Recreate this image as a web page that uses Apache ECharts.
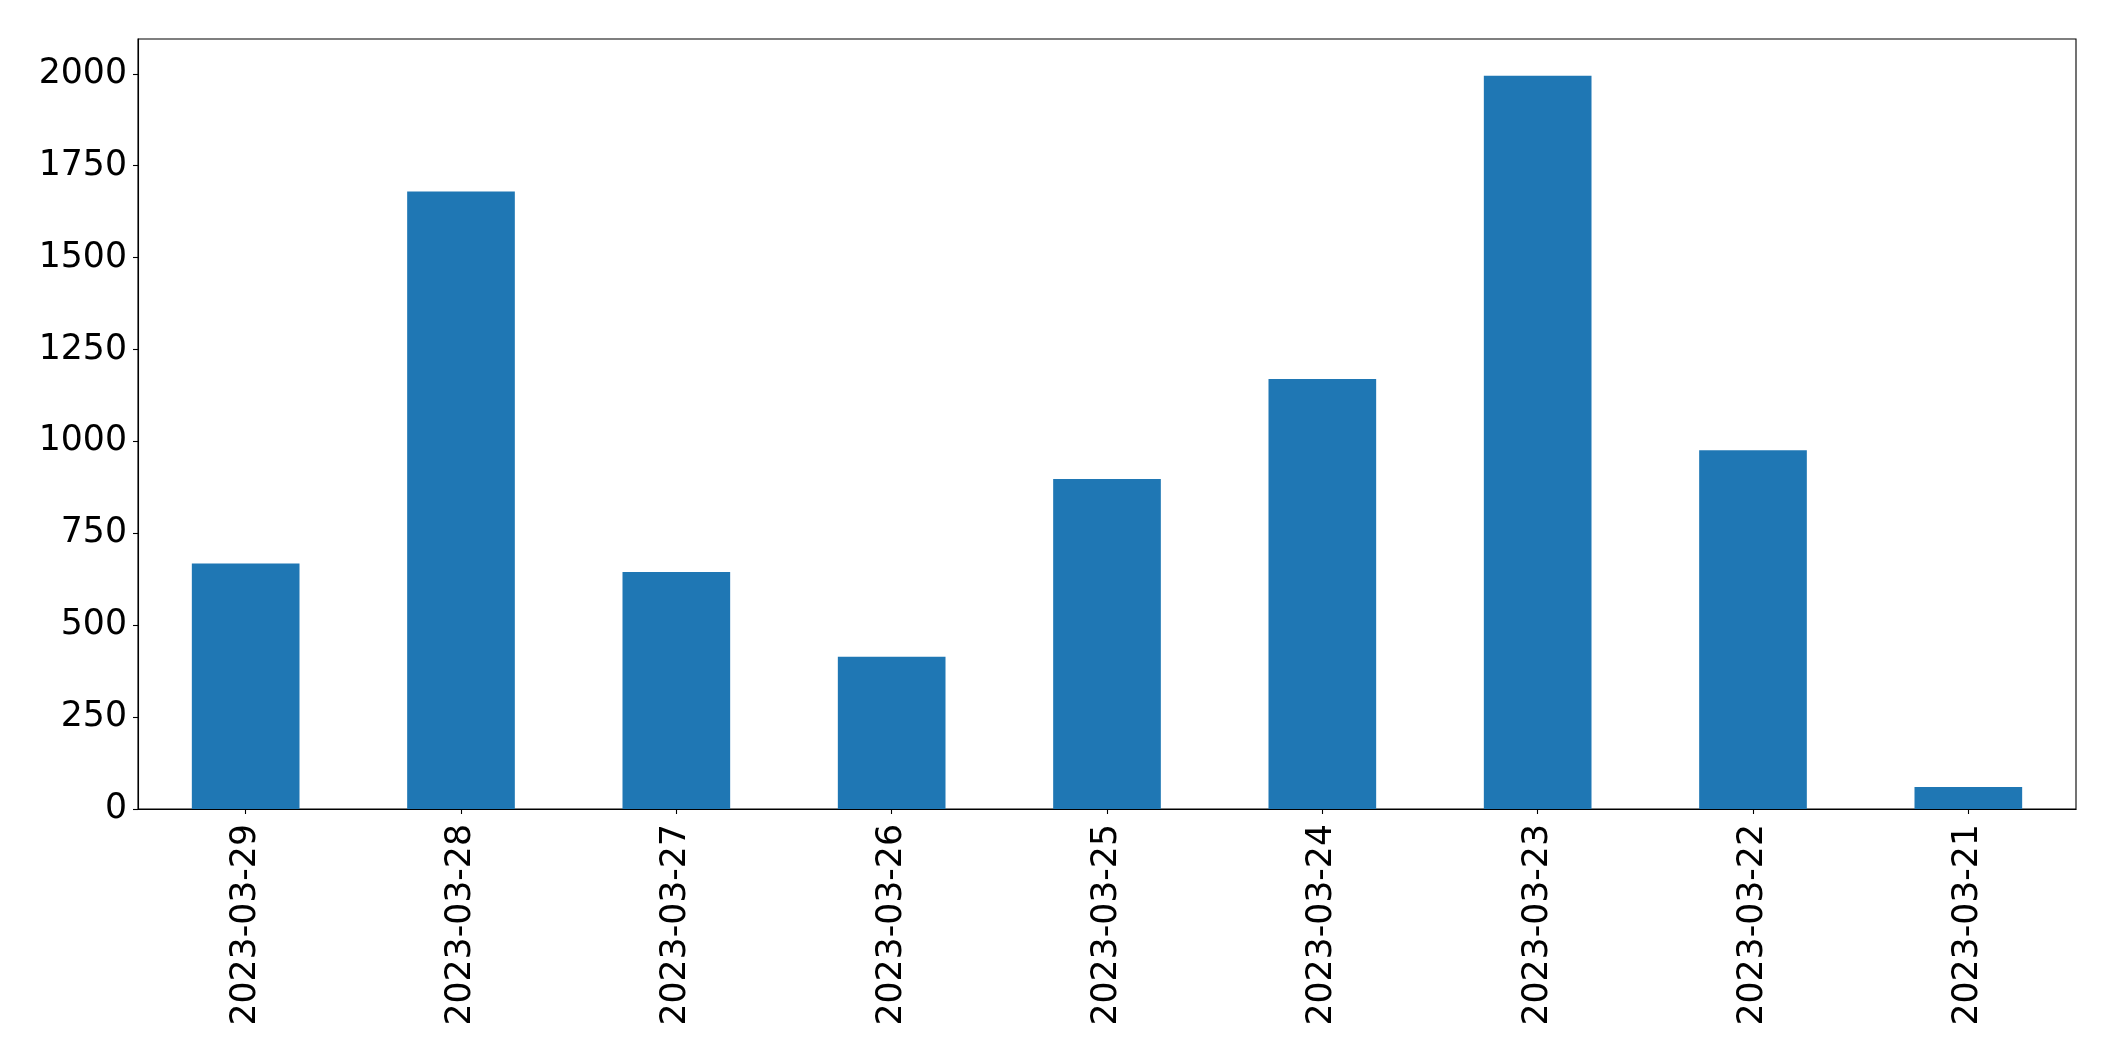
<!DOCTYPE html>
<html>
<head>
<meta charset="utf-8">
<script src="https://cdn.jsdelivr.net/npm/echarts@6/dist/echarts.min.js"></script>
<style>
  html, body { margin: 0; padding: 0; background: #fff; }
  #chart { width: 2115px; height: 1061px; }
</style>
</head>
<body>
<div id="chart"></div>
<script>
const categories = ['2023-03-29', '2023-03-28', '2023-03-27', '2023-03-26', '2023-03-25', '2023-03-24', '2023-03-23', '2023-03-22', '2023-03-21'];
const values = [668, 1680, 645, 414, 898, 1170, 1995, 976, 60];
const yTicks = [0, 250, 500, 750, 1000, 1250, 1500, 1750, 2000];

const chart = echarts.init(document.getElementById('chart'), null, { renderer: 'canvas' });
const yMax = Math.max(...values) * 1.05;
const font = 'DejaVu Sans';
chart.setOption({
  animation: false,
  backgroundColor: '#ffffff',
  grid: {
    left: 138, right: 39, top: 39, bottom: 252,
    show: true, borderColor: '#000', borderWidth: 1.1, backgroundColor: 'transparent'
  },
  xAxis: {
    type: 'category',
    data: categories,
    boundaryGap: true,
    axisLine: { show: true, lineStyle: { color: '#000', width: 1.1 } },
    axisTick: { show: true, alignWithLabel: true, length: 5, lineStyle: { color: '#000', width: 1.1 } },
    axisLabel: { rotate: 90, margin: 15, color: '#000', fontFamily: font, fontSize: 34.7, interval: 0 },
    splitLine: { show: false }
  },
  yAxis: {
    type: 'value',
    min: 0,
    max: yMax,
    interval: 250,
    axisLine: { show: true, lineStyle: { color: '#000', width: 1.1 } },
    axisTick: { show: true, length: 5, customValues: yTicks, lineStyle: { color: '#000', width: 1.1 } },
    axisLabel: {
      margin: 11, color: '#000', fontFamily: font, fontSize: 34.7, customValues: yTicks,
      formatter: function (v) { return String(Math.round(v)); }
    },
    splitLine: { show: false }
  },
  series: [{
    type: 'bar',
    data: values,
    barWidth: '50%',
    itemStyle: { color: '#1f77b4' }
  }]
});
</script>
</body>
</html>
